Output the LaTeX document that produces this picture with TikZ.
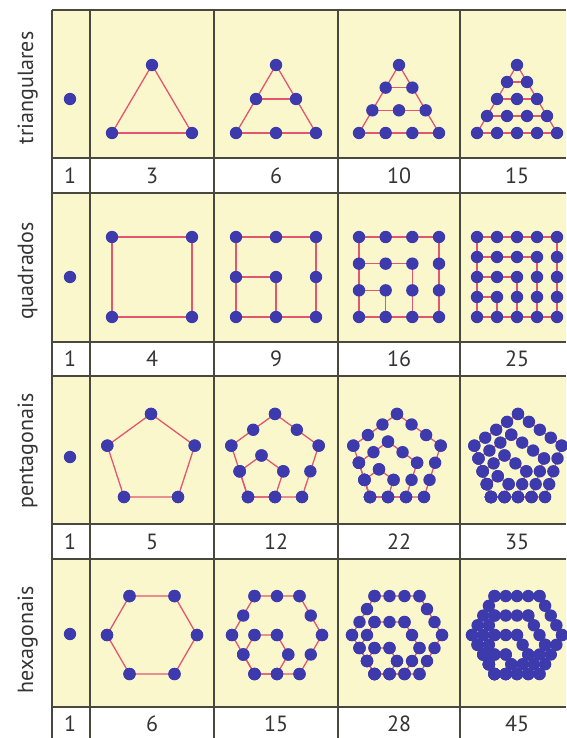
\documentclass[tikz,border=0pt]{standalone}
\usepackage{fontspec}
\setmainfont{PT Sans}
\usepackage{xcolor}
\usepackage{tikz}
\usetikzlibrary{calc}

\definecolor{cellyellow}{RGB}{251,247,204}
\definecolor{dotblue}{RGB}{60,58,172}
\definecolor{linkpink}{RGB}{226,86,112}
\definecolor{gridgrey}{RGB}{72,72,62}
\definecolor{textgrey}{RGB}{52,52,52}

\begin{document}
\begin{tikzpicture}[
    x=1pt, y=-1pt,
    font=\fontsize{22}{24}\selectfont,
    % Styles
    figrow/.style={fill=cellyellow},
    gridline/.style={draw=gridgrey, line width=1.5pt},
    link/.style={draw=linkpink, line width=1.3pt, line join=round},
    dot/.style={fill=dotblue},
    rowlabel/.style={rotate=90, anchor=base, text=textgrey, inner sep=0pt},
    count/.style={text=textgrey, inner sep=0pt}
  ]

    % Page size
    \useasboundingbox (0,0) rectangle (566,738);

    % Yellow figure rows drawn first
    \foreach \ry in {10,193,376,559}
      \fill [figrow] (52,\ry) rectangle (566,\ry+148);

    % Grid
    \foreach \ry in {10,158,193,342,376,524,559,707}
      \draw [gridline] (52,\ry) -- (566,\ry);
    \foreach \gx in {52,90,214,338,460}
      \draw [gridline] (\gx,10) -- (\gx,738);

    % Row labels
    \node (lbltri) [rowlabel] at (33,88) {triangulares};
    \node (lblquad) [rowlabel] at (33,271) {quadrados};
    \node (lblpent) [rowlabel] at (33,451) {pentagonais};
    \node (lblhex) [rowlabel] at (33,640) {hexagonais};

    % Counts under each figure
    \foreach \ry/\kind/\vals in {176/tri/{70/1,152/3,276/6,399/10,517/15},
                                 359/quad/{70/1,152/4,276/9,399/16,517/25},
                                 542/pent/{70/1,152/5,276/12,399/22,517/35},
                                 724/hex/{70/1,152/6,276/15,399/28,517/45}}
      \foreach \nx/\v [count=\i] in \vals
        \node (\kind\i) [count] at (\nx,\ry) {\v};

    % Triangular numbers
    \fill [dot] (70,99) circle (6.2pt);
    \foreach \n/\cx in {2/152,3/276,4/399,5/517} {
      \pgfmathtruncatemacro{\m}{\n-1}
      \pgfmathsetmacro{\gap}{40/\m}
      \pgfmathsetmacro{\rise}{68/\m}
      \draw [link] (\cx-40,133) -- (\cx,65) -- (\cx+40,133);
      \foreach \i in {1,...,\m}
        \draw [link] (\cx-\i*\gap,65+\i*\rise) -- (\cx+\i*\gap,65+\i*\rise);
      \foreach \i in {0,...,\m}
        \foreach \j in {0,...,\i}
          \fill [dot] (\cx-\i*\gap+2*\j*\gap,65+\i*\rise) circle (6.2pt);
    }

    % Square numbers
    \fill [dot] (70,277) circle (6.2pt);
    \foreach \n/\cx in {2/152,3/276,4/399,5/517} {
      \pgfmathtruncatemacro{\m}{\n-1}
      \pgfmathsetmacro{\gap}{80/\m}
      \foreach \k in {1,...,\m}
        \draw [link] (\cx-40,317) rectangle (\cx-40+\k*\gap,317-\k*\gap);
      \foreach \i in {0,...,\m}
        \foreach \j in {0,...,\m}
          \fill [dot] (\cx-40+\i*\gap,237+\j*\gap) circle (6.2pt);
    }

    % Pentagonal numbers
    \fill [dot] (70,457) circle (6.2pt);
    \foreach \n/\cx in {2/151,3/275,4/397,5/518} {
      \pgfmathtruncatemacro{\m}{\n-1}
      \pgfmathsetmacro{\gap}{54/\m}
      \foreach \k in {1,...,\m}
        \draw [link] (\cx-27,497) -- ++(0:\k*\gap) -- ++(-72:\k*\gap)
          -- ++(-144:\k*\gap) -- ++(-216:\k*\gap) -- cycle;
      \foreach \k in {1,...,\m} {
        \path (\cx-27,497) coordinate (p0) ++(0:\k*\gap) coordinate (p1)
          ++(-72:\k*\gap) coordinate (p2) ++(-144:\k*\gap) coordinate (p3)
          ++(-216:\k*\gap) coordinate (p4);
        \foreach \a/\b in {0/1,1/2,2/3,3/4,4/0}
          \foreach \t in {0,...,\k}
            \fill [dot] ($(p\a)!\t/\k!(p\b)$) circle (6.2pt);
      }
    }

    % Hexagonal numbers
    \fill [dot] (70,634) circle (6.2pt);
    \foreach \n/\cx in {2/152,3/277,4/397,5/517} {
      \pgfmathtruncatemacro{\m}{\n-1}
      \pgfmathsetmacro{\gap}{45/\m}
      \foreach \k in {1,...,\m}
        \draw [link] (\cx-22.5,674) -- ++(0:\k*\gap) -- ++(-60:\k*\gap)
          -- ++(-120:\k*\gap) -- ++(-180:\k*\gap) -- ++(-240:\k*\gap) -- cycle;
      \foreach \k in {1,...,\m} {
        \path (\cx-22.5,674) coordinate (h0) ++(0:\k*\gap) coordinate (h1)
          ++(-60:\k*\gap) coordinate (h2) ++(-120:\k*\gap) coordinate (h3)
          ++(-180:\k*\gap) coordinate (h4) ++(-240:\k*\gap) coordinate (h5);
        \foreach \a/\b in {0/1,1/2,2/3,3/4,4/5,5/0}
          \foreach \t in {0,...,\k}
            \fill [dot] ($(h\a)!\t/\k!(h\b)$) circle (6.2pt);
      }
    }

\end{tikzpicture}
\end{document}
